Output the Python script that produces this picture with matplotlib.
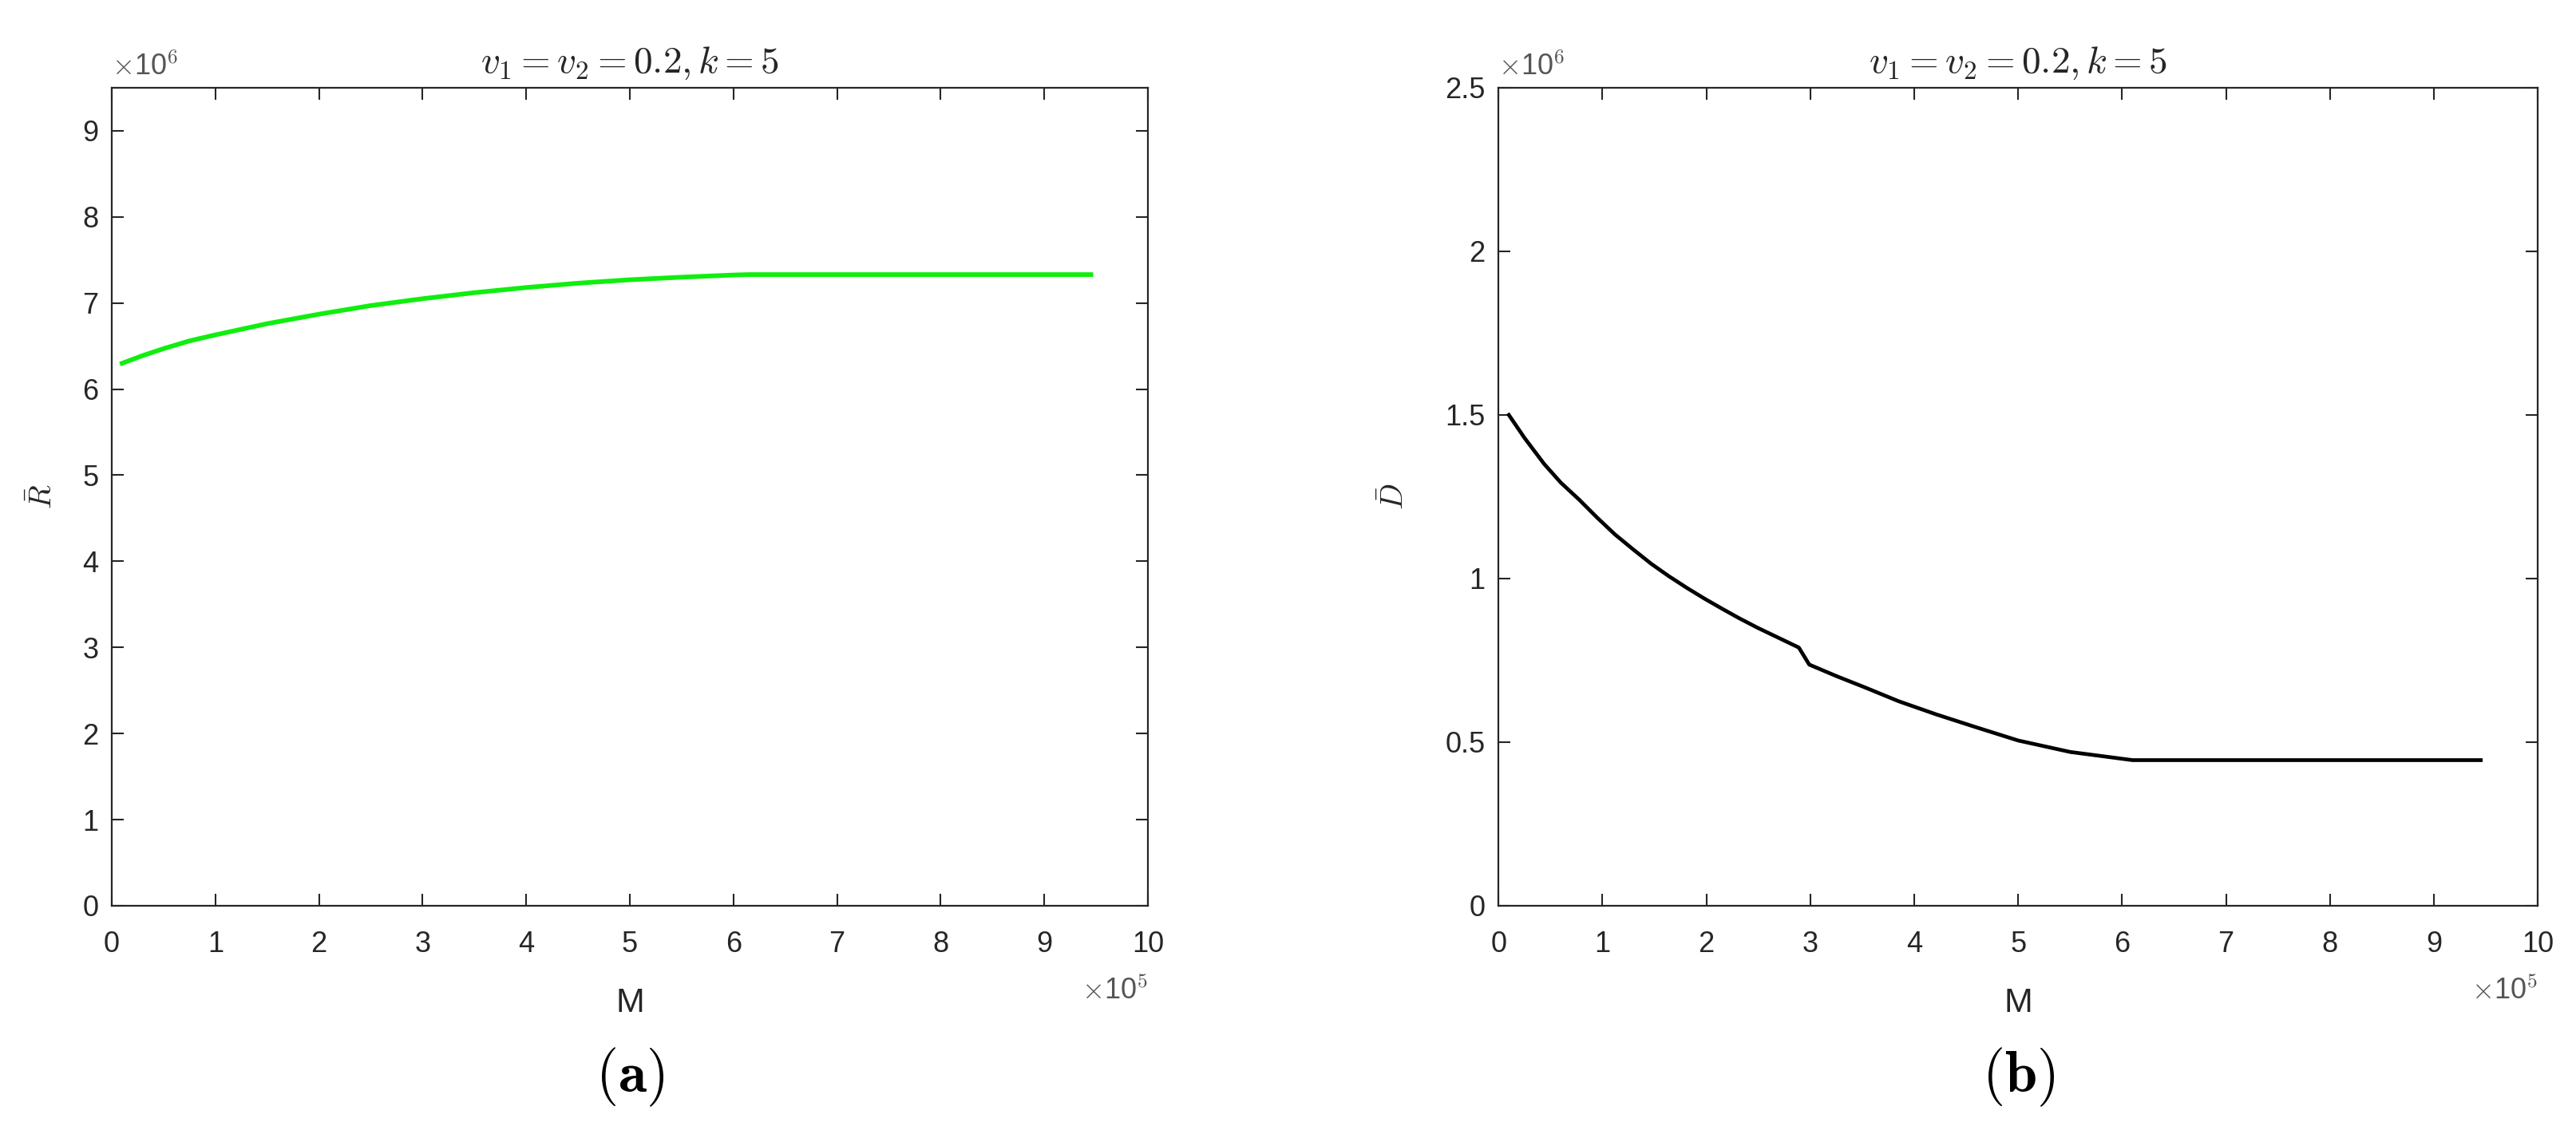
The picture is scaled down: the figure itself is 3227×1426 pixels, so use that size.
import numpy as np
import matplotlib
matplotlib.use('Agg')
import matplotlib.pyplot as plt
from matplotlib.ticker import FuncFormatter, MultipleLocator

plt.rcParams['font.family'] = ['Liberation Sans', 'DejaVu Sans']
plt.rcParams['mathtext.fontset'] = 'cm'

# (a) R bar vs M
M_a = np.array([0.1, 0.3, 0.5, 0.75, 1, 1.5, 2, 2.5, 3, 3.5, 4, 4.5, 5, 5.5, 6, 6.15, 9.45]) * 1e5
R_bar = np.array([6.30, 6.39, 6.47, 6.56, 6.63, 6.76, 6.87, 6.97, 7.05, 7.12, 7.18, 7.23,
                  7.27, 7.30, 7.325, 7.33, 7.33]) * 1e6

# (b) D bar vs M
M_b = np.array([0.1, 0.25, 0.44, 0.6, 0.78, 0.95, 1.12, 1.3, 1.47, 1.64, 1.81, 1.98, 2.15,
                2.32, 2.49, 2.7, 2.89, 2.99, 3.25, 3.52, 3.85, 4.21, 4.6, 5.0, 5.5, 6.1, 9.45]) * 1e5
D_bar = np.array([1.50, 1.43, 1.35, 1.293, 1.24, 1.186, 1.135, 1.088, 1.045, 1.007, 0.972,
                  0.939, 0.908, 0.878, 0.85, 0.818, 0.789, 0.737, 0.702, 0.668, 0.625,
                  0.585, 0.545, 0.505, 0.47, 0.445, 0.445]) * 1e6

title = r'$v_1 = v_2 = 0.2, k = 5$'
fs = 26
dark = '#262626'

fig = plt.figure(figsize=(32.27, 14.26), dpi=100)
ax1 = fig.add_axes([0.0434, 0.2041, 0.4022, 0.7188])
ax2 = fig.add_axes([0.5817, 0.2041, 0.4035, 0.7188])

ax1.plot(M_a, R_bar, color='#10ee10', lw=4.2)
ax2.plot(M_b, D_bar, color='black', lw=3.4)

setup = [
    (ax1, 9.5e6, 1e6, r'$\bar{R}$', -0.052, r'$(\mathbf{a})$'),
    (ax2, 2.5e6, 0.5e6, r'$\bar{D}$', -0.085, r'$(\mathbf{b})$'),
]
for ax, ymax, ystep, ylab, ylx, panel in setup:
    ax.set_xlim(0, 10e5)
    ax.set_ylim(0, ymax)
    ax.xaxis.set_major_locator(MultipleLocator(1e5))
    ax.yaxis.set_major_locator(MultipleLocator(ystep))
    ax.xaxis.set_major_formatter(FuncFormatter(lambda v, p: f'{v / 1e5:g}'))
    ax.yaxis.set_major_formatter(FuncFormatter(lambda v, p: f'{v / 1e6:g}'))
    ax.tick_params(direction='in', top=True, right=True, length=11, width=1.5,
                   labelsize=fs, colors=dark)
    ax.tick_params(axis='x', pad=22)
    ax.tick_params(axis='y', pad=12)
    for s in ax.spines.values():
        s.set_color(dark)
        s.set_linewidth(1.6)
    ax.set_title(title, fontsize=34, color=dark, pad=14)
    ax.set_xlabel('M', fontsize=31, color=dark)
    ax.xaxis.set_label_coords(0.5, -0.1)
    ax.set_ylabel(ylab, fontsize=28, color=dark)
    ax.yaxis.set_label_coords(ylx, 0.5)
    ax.text(0.0, 1.008, r'$\times$10$^{6}$', transform=ax.transAxes, fontsize=fs,
            color='#555555', ha='left', va='bottom')
    ax.text(1.0, -0.105, r'$\times$10$^{5}$', transform=ax.transAxes, fontsize=fs,
            color='#555555', ha='right', va='center')
    ax.text(0.5, -0.21, panel, transform=ax.transAxes, fontsize=52,
            ha='center', va='center')

fig.savefig('out.png', dpi=100, facecolor='white')
